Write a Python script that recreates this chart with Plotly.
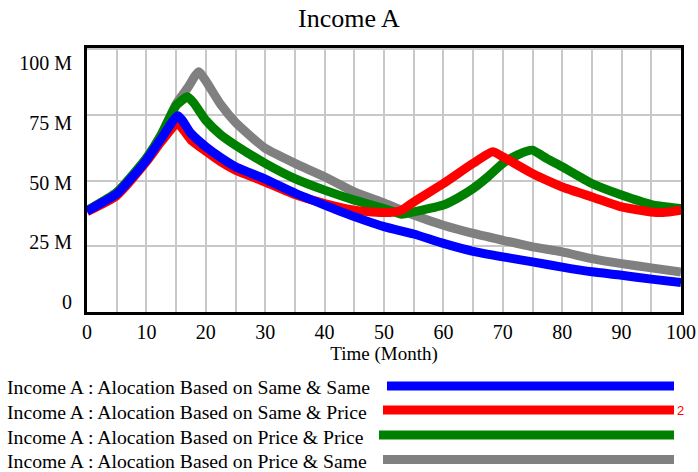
import plotly.graph_objects as go

# ---- series data (values in millions, time in months) ----
t_same_same = [0, 2.5, 5, 7.5, 10, 12.5, 15.3, 17.5, 20, 22.5, 25, 30, 35, 40, 45,
               50, 55, 60, 65, 70, 75, 80, 85, 90, 95, 100]
v_same_same = [38.4, 41.6, 44.9, 51.0, 57.8, 66.0, 74.7, 68.0, 62.9, 58.8, 55.3, 50.6,
               45.3, 40.7, 36.3, 32.5, 29.7, 26.1, 23.1, 21.0, 19.1, 17.1, 15.3, 14.0,
               12.5, 11.2]

t_same_price = [0, 5, 10, 12.5, 15.2, 17.5, 20, 22.5, 25, 30, 35, 40, 45, 48, 51, 53,
                55, 60, 65, 68.3, 70, 75, 78, 80, 85, 90, 95, 97, 100]
v_same_price = [38.2, 44.3, 57.2, 64.8, 71.8, 65.5, 61.2, 57.2, 54.0, 49.5, 44.7, 41.3,
                38.8, 38.1, 37.9, 38.8, 41.9, 48.9, 56.6, 61.0, 59.1, 52.7, 49.5, 47.6,
                43.8, 40.0, 38.1, 37.9, 38.8]

t_price_price = [0, 5, 10, 12.5, 15, 16.9, 18, 20, 22.5, 25, 30, 35, 40, 45, 50, 53,
                 55, 60, 62.5, 65, 67.5, 70, 72.5, 74, 75, 77.5, 80, 85, 90, 95, 100]
v_price_price = [38.6, 45.5, 58.6, 67.5, 78.6, 81.9, 79.5, 73.0, 67.5, 63.5, 56.6, 50.8,
                 46.4, 42.6, 39.4, 37.2, 38.1, 40.7, 43.5, 47.0, 51.5, 56.6, 59.8, 61.2,
                 61.6, 58.3, 55.3, 48.9, 44.5, 40.9, 39.4]

t_price_same = [0, 5, 10, 12.5, 15, 17, 18.8, 20, 22.5, 25, 30, 35, 40, 45, 50, 55, 60,
                65, 70, 75, 80, 85, 90, 95, 100]
v_price_same = [38.6, 45.5, 58.6, 67.5, 79.2, 85.5, 91.5, 88.0, 79.0, 72.2, 62.3, 56.6,
                51.5, 45.7, 41.5, 36.9, 33.0, 29.9, 27.3, 24.8, 22.9, 20.3, 18.4, 16.8,
                15.2]

series_names = [
    "Income A : Alocation Based on Same & Same",
    "Income A : Alocation Based on Same & Price",
    "Income A : Alocation Based on Price & Price",
    "Income A : Alocation Based on Price & Same",
]
series_colors = ["#0000ff", "#ff0000", "#008000", "#808080"]
series_t = [t_same_same, t_same_price, t_price_price, t_price_same]
series_v = [v_same_same, v_same_price, v_price_price, v_price_same]

chart_title = "Income A"
x_title = "Time (Month)"
y_tick_vals = [0, 25, 50, 75, 100]
y_tick_text = ["0", "25 M", "50 M", "75 M", "100 M"]
x_tick_vals = [0, 10, 20, 30, 40, 50, 60, 70, 80, 90, 100]

FONT = "Liberation Serif"
W, H = 698, 472
ML, MR, MT, MB = 87, 17, 48, 160
PW, PH = W - ML - MR, H - MT - MB


def px(x):
    return (x - ML) / PW


def py(y):
    return (H - MB - y) / PH


fig = go.Figure()

# draw the last series first so the first one ends up on top
for name, col, ts, vs in reversed(list(zip(series_names, series_colors, series_t, series_v))):
    fig.add_trace(go.Scatter(
        x=ts, y=[v * 1e6 for v in vs], mode="lines", name=name,
        line=dict(color=col, width=9, shape="spline", smoothing=0.5), showlegend=False,
    ))

# empty trace holding the tick-label axis
fig.add_trace(go.Scatter(x=[None], y=[None], yaxis="y2", showlegend=False,
                         hoverinfo="skip"))

grid = "#c8c8c8"
fig.update_layout(
    width=W, height=H,
    margin=dict(l=ML, r=MR, t=MT, b=MB, autoexpand=False),
    paper_bgcolor="white", plot_bgcolor="white",
    font=dict(family=FONT, color="black"),
    xaxis=dict(
        range=[0, 100], tickvals=x_tick_vals, showgrid=True, gridcolor=grid,
        gridwidth=1.5, minor=dict(dtick=5, showgrid=True, gridcolor=grid, gridwidth=1.5),
        zeroline=False, showline=True, mirror=True, linecolor="black", linewidth=2.5,
        ticks="", tickfont=dict(size=20, family=FONT), ticklabelstandoff=0,
        automargin=False,
        title=dict(text=x_title, font=dict(size=19, family=FONT), standoff=2),
    ),
    yaxis=dict(
        range=[0, 100.5e6], tickvals=[v * 1e6 for v in y_tick_vals], showgrid=True,
        gridcolor=grid, gridwidth=1.5, showticklabels=False, zeroline=False,
        showline=True, mirror=True, linecolor="black", linewidth=2.5, automargin=False,
    ),
    yaxis2=dict(
        overlaying="y", side="left", range=[-4.19e6, 106.29e6],
        tickvals=[v * 1e6 for v in y_tick_vals], ticktext=y_tick_text,
        showgrid=False, zeroline=False, showline=False, ticks="",
        tickfont=dict(size=20, family=FONT), ticklabelstandoff=14, automargin=False,
    ),
)

# chart title, centred on the whole figure
fig.add_annotation(text=chart_title, x=0.5, y=1 - 19 / H, xref="paper", yref="paper",
                   xanchor="center", yanchor="middle", showarrow=False,
                   font=dict(size=26, family=FONT))
fig.update_annotations(selector=dict(text=chart_title), x=(W / 2 - ML) / PW,
                       y=py(19))

# legend: label on the left, colored bar on the right
legend_rows = [387, 412, 437, 461]
line_rows = [386, 410, 435, 459.5]
line_starts = [387, 383, 379, 383]
for name, col, ty, ly, x0 in zip(series_names, series_colors, legend_rows, line_rows, line_starts):
    fig.add_annotation(text=name, x=px(5), y=py(ty), xref="paper", yref="paper",
                       xanchor="left", yanchor="middle", showarrow=False,
                       font=dict(size=19.7, family=FONT))
    fig.add_shape(type="line", xref="paper", yref="paper",
                  x0=px(x0), x1=px(674), y0=py(ly), y1=py(ly),
                  line=dict(color=col, width=9))

fig.add_annotation(text="2", x=px(675), y=py(410), xref="paper", yref="paper",
                   xanchor="left", yanchor="middle", showarrow=False,
                   font=dict(size=13, family="Liberation Sans", color="#ff0000"))

fig.write_html("out.html")
